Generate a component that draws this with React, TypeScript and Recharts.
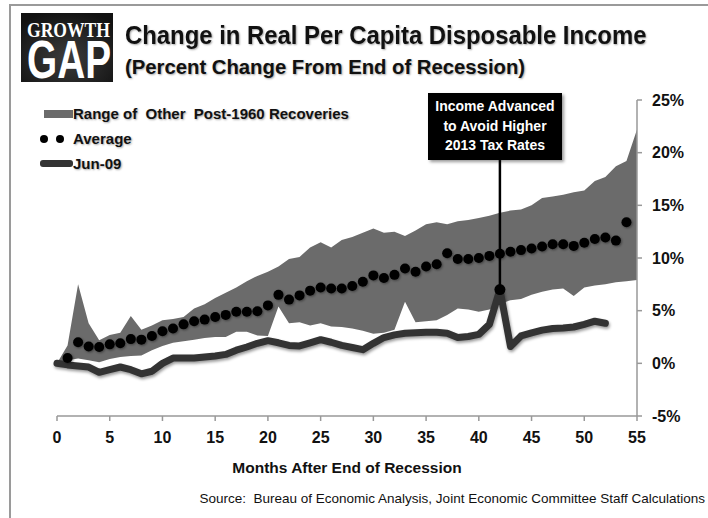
import React from 'react';
import { ComposedChart, Area, Line, XAxis, YAxis, ReferenceLine, ReferenceDot } from 'recharts';

const months = Array.from({ length: 56 }, (_, i) => i);
const rangeLow = [0, 0.3, 0.45, 0.3, 0.1, 0.4, 0.6, 0.7, 0.75, 1.25, 1.65, 1.95, 2.1, 2.25, 2.4, 2.5, 2.5, 3.0, 3.0, 2.65, 2.6, 5.4, 3.8, 3.9, 3.6, 3.8, 3.5, 3.45, 3.3, 3.1, 2.8, 2.9, 3.2, 5.85, 3.9, 4.0, 4.1, 4.6, 5.2, 5.1, 4.9, 5.1, 5.6, 6.0, 6.1, 6.5, 6.8, 7.0, 7.1, 6.4, 7.2, 7.4, 7.5, 7.7, 7.8, 7.9];
const rangeHigh = [0, 1.7, 7.5, 3.8, 2.2, 2.7, 2.9, 4.5, 3.2, 3.6, 4.1, 4.2, 4.4, 5.2, 5.6, 6.2, 6.7, 7.2, 7.8, 8.3, 8.7, 9.2, 9.9, 10.1, 11.0, 11.5, 11.0, 11.7, 12.0, 12.4, 12.8, 12.4, 12.5, 12.1, 12.6, 13.2, 13.4, 13.2, 13.5, 13.6, 13.8, 14.0, 14.3, 14.5, 14.6, 15.0, 15.7, 15.85, 16.0, 16.25, 16.4, 17.3, 17.7, 18.7, 19.2, 22.2];
const average = [null, 0.5, 2.0, 1.6, 1.55, 1.8, 1.9, 2.3, 2.25, 2.6, 3.05, 3.3, 3.7, 4.0, 4.15, 4.4, 4.6, 4.9, 4.9, 4.95, 5.5, 6.5, 6.05, 6.45, 6.9, 7.2, 7.1, 7.1, 7.35, 7.75, 8.35, 8.1, 8.4, 9.0, 8.7, 9.2, 9.4, 10.45, 9.9, 9.9, 10.0, 10.2, 10.4, 10.6, 10.75, 10.9, 11.1, 11.3, 11.3, 11.15, 11.45, 11.8, 11.95, 11.65, 13.4, null];
const jun09 = [0, -0.15, -0.25, -0.35, -0.85, -0.6, -0.35, -0.6, -1.0, -0.75, 0, 0.5, 0.5, 0.5, 0.6, 0.7, 0.85, 1.25, 1.55, 1.9, 2.15, 1.95, 1.7, 1.65, 1.95, 2.25, 2.0, 1.7, 1.5, 1.3, 1.9, 2.45, 2.7, 2.85, 2.9, 2.95, 2.95, 2.85, 2.45, 2.55, 2.75, 3.7, 7.0, 1.6, 2.6, 2.9, 3.15, 3.3, 3.35, 3.45, 3.7, 4.0, 3.8, null, null, null];

const xTicks = [0, 5, 10, 15, 20, 25, 30, 35, 40, 45, 50, 55];
const yTicks = [-5, 0, 5, 10, 15, 20, 25];
const calloutMonth = 42;
const calloutTop = 19.3;
const calloutLines = ['Income Advanced', 'to Avoid Higher', '2013 Tax Rates'];
const legendLabels = ['Range of\u00a0 Other\u00a0 Post-1960 Recoveries', 'Average', 'Jun-09'];

const data = months.map((m, i) => ({
  m,
  range: [rangeLow[i], rangeHigh[i]],
  avg: average[i],
  jun: jun09[i],
}));

const SANS = "'Liberation Sans', Arial, sans-serif";
const shadow = '1px 1px 2px rgba(0,0,0,0.35)';

const rowStyle: React.CSSProperties = { display: 'flex', alignItems: 'center', height: 25, whiteSpace: 'nowrap' };

const LegendBox = () => (
  <div style={{ position: 'absolute', left: 40, top: 101, fontFamily: SANS, fontWeight: 'bold', fontSize: 15, color: '#111', textShadow: shadow }}>
    <div style={rowStyle}>
      <div style={{ width: 4 }} />
      <div style={{ width: 29, height: 8, background: '#6b6b6b', marginRight: 0 }} />
      <span>{legendLabels[0]}</span>
    </div>
    <div style={rowStyle}>
      <div style={{ width: 33, position: 'relative', height: 10 }}>
        <div style={{ position: 'absolute', left: 0, top: 1, width: 8, height: 8, borderRadius: 4, background: '#000' }} />
        <div style={{ position: 'absolute', left: 16, top: 1, width: 8, height: 8, borderRadius: 4, background: '#000' }} />
      </div>
      <span>{legendLabels[1]}</span>
    </div>
    <div style={rowStyle}>
      <div style={{ width: 33, height: 7, borderRadius: 3, background: '#333' }} />
      <span>{legendLabels[2]}</span>
    </div>
  </div>
);

const Logo = () => (
  <svg style={{ position: 'absolute', left: 21, top: 13 }} width={92} height={69}>
    <defs>
      <radialGradient id="logoBg" cx="50%" cy="65%" r="70%">
        <stop offset="0%" stopColor="#3c3c3c" />
        <stop offset="100%" stopColor="#111" />
      </radialGradient>
    </defs>
    <rect x={0} y={0} width={92} height={69} fill="url(#logoBg)" />
    <text x={6} y={24} fontFamily="'Liberation Serif', serif" fontWeight="bold" fontSize={20} fill="#fff" textLength={83} lengthAdjust="spacingAndGlyphs">GROWTH</text>
    <text x={6} y={65} fontFamily={SANS} fontWeight="bold" fontSize={54} fill="#fff" textLength={84} lengthAdjust="spacingAndGlyphs">GAP</text>
  </svg>
);

export default function App() {
  return (
    <div style={{ position: 'fixed', left: 0, top: 0, width: 708, height: 518, background: '#fff', overflow: 'hidden' }}>
      <div style={{ position: 'absolute', left: 9, top: 4, width: 720, height: 600, borderLeft: '2px solid #9a9a9a', borderTop: '2px solid #9a9a9a' }} />
      <Logo />
      <div style={{ position: 'absolute', left: 125, top: 20, fontFamily: SANS, fontWeight: 'bold', fontSize: 25, lineHeight: '30px', color: '#111', whiteSpace: 'nowrap', textShadow: shadow, transform: 'scaleX(0.955)', transformOrigin: 'left top' }}>
        Change in Real Per Capita Disposable Income
      </div>
      <div style={{ position: 'absolute', left: 125, top: 55, fontFamily: SANS, fontWeight: 'bold', fontSize: 20.3, lineHeight: '24px', color: '#111', whiteSpace: 'nowrap', textShadow: shadow }}>
        (Percent Change From End of Recession)
      </div>
      <div style={{ position: 'absolute', left: 0, top: 0 }}>
        <ComposedChart width={708} height={518} data={data} margin={{ top: 100, right: 11, bottom: 72, left: 57 }}>
          <XAxis
            dataKey="m"
            type="number"
            domain={[0, 55]}
            ticks={xTicks}
            interval={0}
            axisLine={{ stroke: '#999', strokeWidth: 1.5 }}
            tickLine={{ stroke: '#999', strokeWidth: 1.5 }}
            tickSize={5}
            tickMargin={11}
            height={30}
            tick={{ fontFamily: SANS, fontWeight: 'bold', fontSize: 16, fill: '#111' }}
          />
          <YAxis
            orientation="right"
            type="number"
            domain={[-5, 25]}
            ticks={yTicks}
            interval={0}
            width={60}
            axisLine={{ stroke: '#999', strokeWidth: 1.5 }}
            tickLine={{ stroke: '#999', strokeWidth: 1.5 }}
            tickSize={5}
            tickMargin={10}
            tickFormatter={(v: number) => `${v}%`}
            tick={{ fontFamily: SANS, fontWeight: 'bold', fontSize: 16, fill: '#111', textAnchor: 'start' }}
          />
          <Area
            dataKey="range"
            type="linear"
            stroke="none"
            fill="#6b6b6b"
            fillOpacity={1}
            isAnimationActive={false}
            activeDot={false}
            name="Range of Other Post-1960 Recoveries"
          />
          <Line
            dataKey="jun"
            type="linear"
            stroke="#333"
            strokeWidth={7}
            strokeLinejoin="round"
            strokeLinecap="round"
            dot={false}
            activeDot={false}
            connectNulls={false}
            isAnimationActive={false}
            style={{ filter: 'drop-shadow(1px 2px 1.5px rgba(0,0,0,0.4))' }}
            name="Jun-09"
          />
          <Line
            dataKey="avg"
            type="linear"
            stroke="none"
            dot={{ r: 5, fill: '#000', stroke: 'none', style: { filter: 'drop-shadow(1px 1px 1px rgba(0,0,0,0.4))' } }}
            activeDot={false}
            isAnimationActive={false}
            name="Average"
          />
          <ReferenceLine
            segment={[{ x: calloutMonth, y: jun09[calloutMonth] as number }, { x: calloutMonth, y: calloutTop }]}
            stroke="#000"
            strokeWidth={2.5}
          />
          <ReferenceDot x={calloutMonth} y={jun09[calloutMonth] as number} r={5.5} fill="#000" stroke="none" />
        </ComposedChart>
      </div>
      <LegendBox />
      <div style={{ position: 'absolute', left: 428, top: 93, width: 134, height: 67, background: '#000', boxShadow: '2px 2px 3px rgba(0,0,0,0.4)', color: '#fff', fontFamily: SANS, fontWeight: 'bold', fontSize: 14, textAlign: 'center', lineHeight: '19.5px', paddingTop: 4, boxSizing: 'border-box' }}>
        {calloutLines.map((t) => (
          <div key={t}>{t}</div>
        ))}
      </div>
      <div style={{ position: 'absolute', left: 0, width: 694, top: 459, textAlign: 'center', fontFamily: SANS, fontWeight: 'bold', fontSize: 15.5, color: '#111' }}>
        Months After End of Recession
      </div>
      <div style={{ position: 'absolute', right: 3, top: 491, fontFamily: SANS, fontSize: 13.5, color: '#111', whiteSpace: 'nowrap' }}>
        Source:&nbsp; Bureau of Economic Analysis, Joint Economic Committee Staff Calculations
      </div>
    </div>
  );
}
